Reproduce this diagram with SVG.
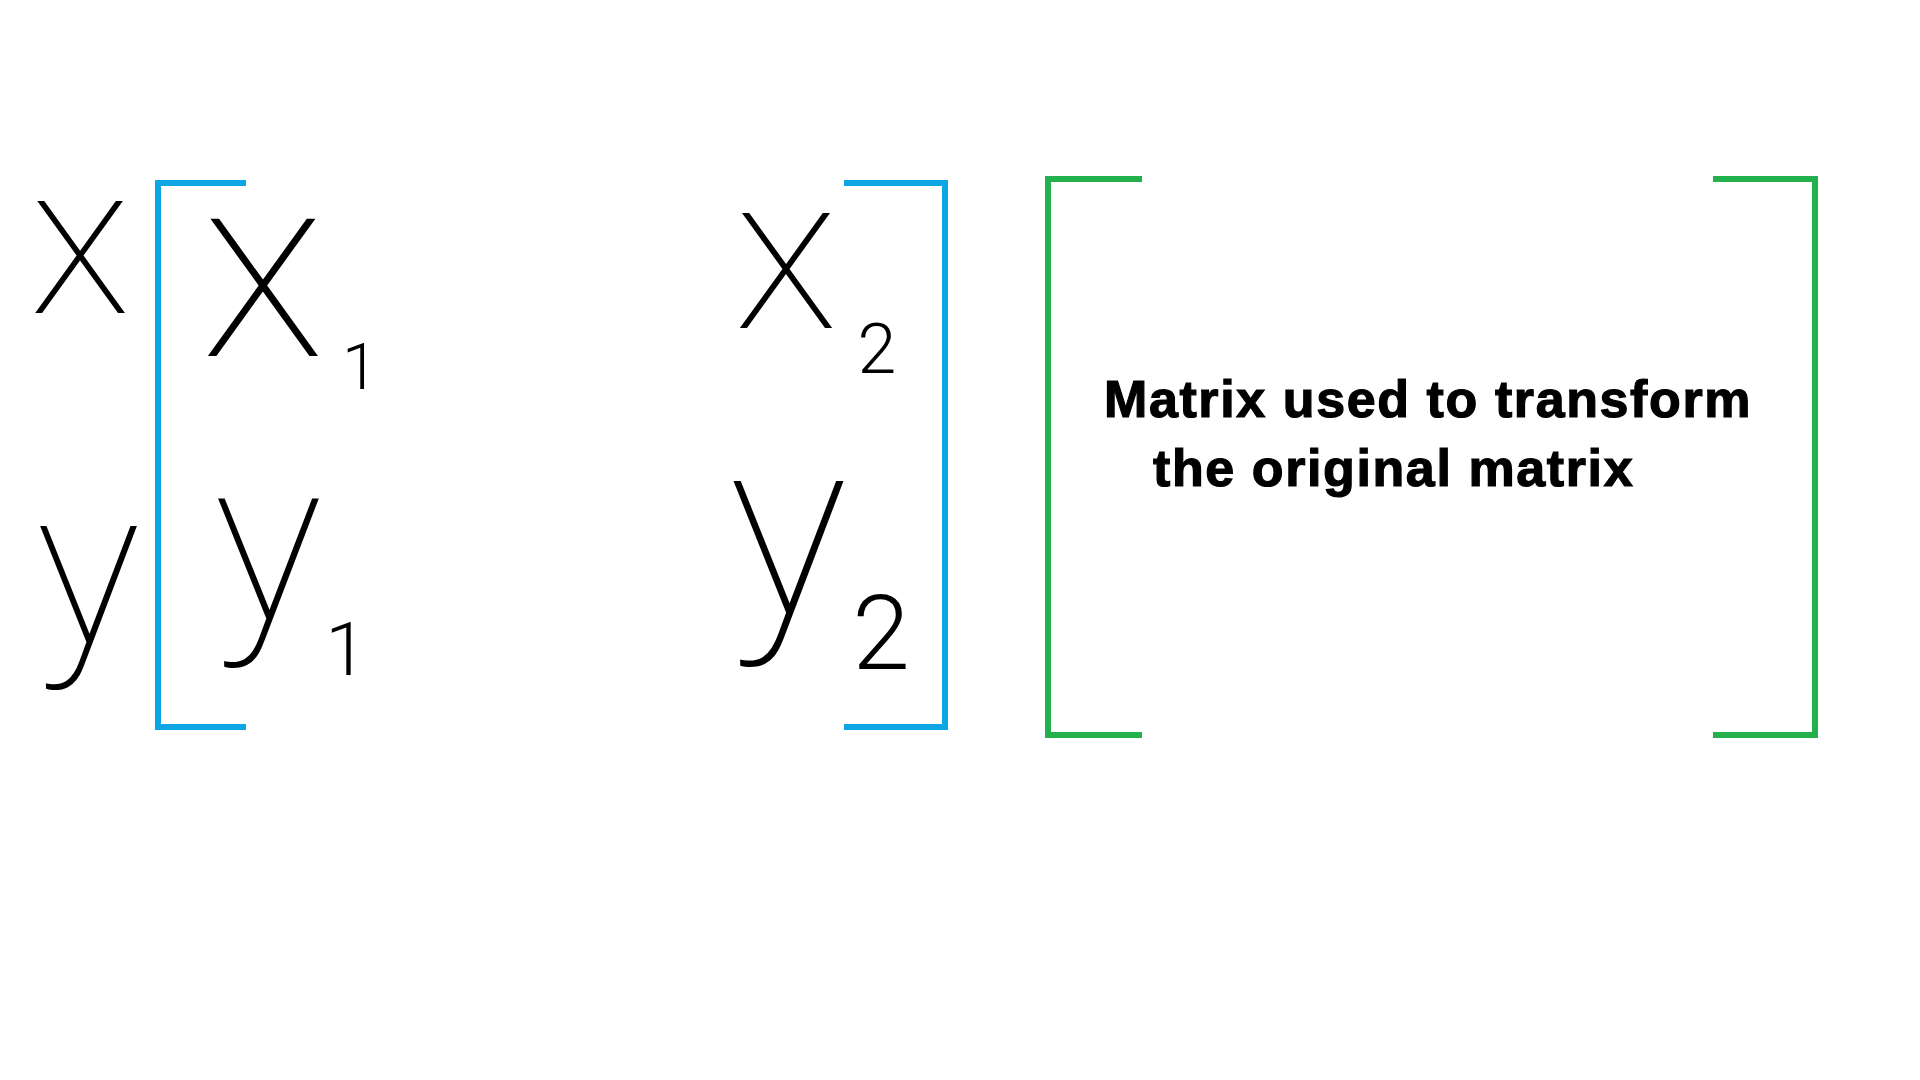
<svg xmlns="http://www.w3.org/2000/svg" width="1920" height="1080" viewBox="0 0 1920 1080">
<style>
.hw{font-family:Roboto,Lato,"Liberation Sans",sans-serif;font-weight:100;fill:#000;text-anchor:middle}
.sub{font-weight:300}
.blue{fill:none;stroke:#0ea5e4;stroke-width:6}
.green{fill:none;stroke:#22b14c;stroke-width:6}
.lbl{font-family:"Liberation Sans",Arial,sans-serif;font-weight:bold;font-size:52px;letter-spacing:1.6px;fill:#000;stroke:#000;stroke-width:1.2}
</style>
<rect width="1920" height="1080" fill="#fff"/>
<g id="vector">
<text class="hw" x="80" y="313" font-size="212">x<tspan x="88" y="643" font-size="220">y</tspan></text>
</g>
<g id="blue-matrix">
<polyline class="blue" points="246,183 158,183 158,727 246,727"/>
<polyline class="blue" points="844,183 945,183 945,727 844,727"/>
<text class="hw" x="263" y="356" font-size="260">x<tspan class="sub" x="360" y="389" font-size="65">1</tspan><tspan x="268" y="619" font-size="229">y</tspan><tspan class="sub" x="346" y="675" font-size="75">1</tspan></text>
<text class="hw" x="786" y="328" font-size="218">x<tspan class="sub" x="877" y="373" font-size="70">2</tspan><tspan x="788" y="613" font-size="250">y</tspan><tspan class="sub" x="881" y="669" font-size="104">2</tspan></text>
</g>
<g id="green-matrix">
<polyline class="green" points="1142,179 1048,179 1048,735 1142,735"/>
<polyline class="green" points="1713,179 1815,179 1815,735 1713,735"/>
<text class="lbl" x="1104" y="417">Matrix used to transform</text>
<text class="lbl" x="1153" y="486">the original matrix</text>
</g>
</svg>
